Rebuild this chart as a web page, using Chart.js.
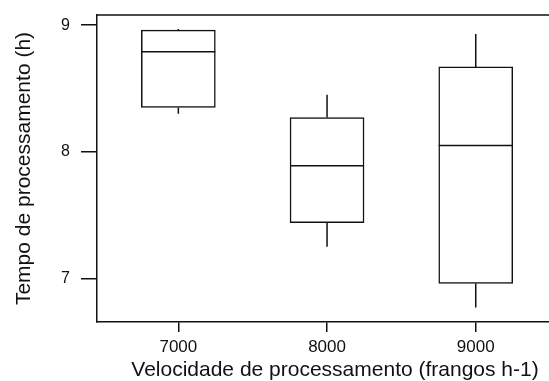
<!DOCTYPE html>
<html>
<head>
<meta charset="utf-8">
<script src="https://cdn.jsdelivr.net/npm/chart.js@4/dist/chart.umd.min.js"></script>
<style>
  html, body { margin: 0; padding: 0; background: #fff; overflow: hidden; }
  #clip { width: 549px; height: 381px; overflow: hidden; }
  #wrap { width: 573px; height: 381px; position: relative; }
</style>
</head>
<body>
<div id="clip"><div id="wrap"><canvas id="chart"></canvas></div></div>
<script>
// box plot data
const speeds = [7000, 8000, 9000];
const whiskerMin = [8.30, 7.25, 6.77];
const boxQ1 = [8.35, 7.44, 6.96];
const medians = [8.79, 7.89, 8.05];
const boxQ3 = [8.96, 8.27, 8.67];
const whiskerMax = [8.97, 8.45, 8.93];
const yTicks = [7, 8, 9];

const lineColor = "#111";

const boxPlugin = {
  id: "boxExtras",
  afterDatasetsDraw(chart) {
    const ctx = chart.ctx;
    const x = chart.scales.x;
    const y = chart.scales.y;
    const half = 37;
    ctx.save();
    ctx.strokeStyle = lineColor;
    ctx.lineWidth = 1.5;
    ctx.beginPath();
    for (let i = 0; i < speeds.length; i++) {
      const cx = x.getPixelForValue(speeds[i]);
      // whiskers
      ctx.moveTo(cx, y.getPixelForValue(boxQ3[i]));
      ctx.lineTo(cx, y.getPixelForValue(whiskerMax[i]));
      ctx.moveTo(cx, y.getPixelForValue(boxQ1[i]));
      ctx.lineTo(cx, y.getPixelForValue(whiskerMin[i]));
      // median
      const my = y.getPixelForValue(medians[i]);
      ctx.moveTo(cx - half, my);
      ctx.lineTo(cx + half, my);
    }
    // top frame line
    const area = chart.chartArea;
    ctx.moveTo(area.left, area.top);
    ctx.lineTo(area.right, area.top);
    ctx.stroke();
    ctx.restore();
  }
};

const ctx = document.getElementById("chart").getContext("2d");
new Chart(ctx, {
  type: "bar",
  data: {
    datasets: [
      {
        label: "box",
        data: speeds.map((s, i) => ({ x: s, y: [boxQ1[i], boxQ3[i]] })),
        backgroundColor: "#fff",
        borderColor: lineColor,
        borderWidth: 1.5,
        borderSkipped: false,
        barThickness: 74,
      },
    ],
  },
  options: {
    responsive: true,
    maintainAspectRatio: false,
    animation: false,
    layout: { padding: { top: 15, left: 0, right: 0, bottom: 0 } },
    plugins: {
      legend: { display: false },
      tooltip: { enabled: false },
    },
    scales: {
      x: {
        type: "linear",
        offset: false,
        min: 6453,
        max: 9654,
        afterBuildTicks: (scale) => {
          scale.ticks = speeds.map((v) => ({ value: v }));
        },
        afterFit: (scale) => {
          scale.height = 59;
          scale.paddingLeft = 0;
          scale.paddingRight = 0;
        },
        grid: { offset: false, drawOnChartArea: false, tickLength: 10, color: lineColor, lineWidth: 1.5 },
        border: { color: lineColor, width: 1.5 },
        ticks: {
          color: "#111",
          font: { family: "Liberation Sans", size: 17 },
          padding: 5,
          callback: (v) => String(v),
        },
        title: {
          display: true,
          text: "Velocidade de processamento (frangos h-1)",
          color: "#111",
          font: { family: "Liberation Sans", size: 21, lineHeight: 1.0 },
          padding: { top: 0, bottom: 0 },
        },
      },
      y: {
        min: 6.655,
        max: 9.08,
        afterBuildTicks: (scale) => {
          scale.ticks = yTicks.map((v) => ({ value: v }));
        },
        afterFit: (scale) => {
          scale.width = 97;
          scale.paddingTop = 0;
          scale.paddingBottom = 0;
        },
        grid: { drawOnChartArea: false, tickLength: 16, color: lineColor, lineWidth: 1.5 },
        border: { color: lineColor, width: 1.5 },
        ticks: {
          color: "#111",
          font: { family: "Liberation Sans", size: 16 },
          padding: 11,
        },
        title: {
          display: true,
          text: "Tempo de processamento (h)",
          color: "#111",
          font: { family: "Liberation Sans", size: 21 },
          padding: { top: 12, bottom: 0 },
        },
      },
    },
  },
  plugins: [boxPlugin],
});
</script>
</body>
</html>
